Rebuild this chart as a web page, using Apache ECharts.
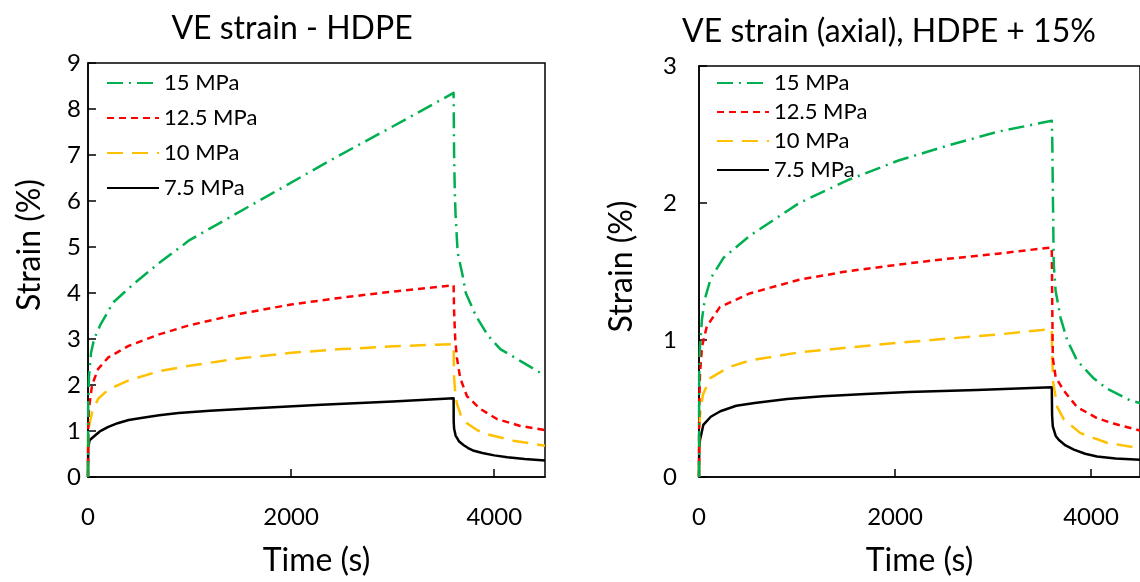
<!DOCTYPE html>
<html>
<head>
<meta charset="utf-8">
<script src="https://cdn.jsdelivr.net/npm/echarts@6/dist/echarts.min.js"></script>
<style>
  body { margin: 0; background: #fff; }
  #main { width: 1140px; height: 582px; }
</style>
</head>
<body>
<div id="main"></div>
<script>
// legend names
var loads = ['15 MPa', '12.5 MPa', '10 MPa', '7.5 MPa'];
var xTicks = [0, 2000, 4000];

// left chart: HDPE, time (s) and strain (%)
var tG1 = [0, 2, 10, 30, 60, 120, 250, 450, 700, 1000, 1400, 1800, 2400, 3000, 3600, 3605, 3612, 3620, 3640, 3690, 3720, 3820, 3940, 4060, 4260, 4450, 4500];
var sG1 = [0, 1.6, 2.2, 2.7, 3.0, 3.3, 3.8, 4.2, 4.65, 5.15, 5.65, 6.15, 6.9, 7.62, 8.35, 7.0, 6.2, 5.67, 4.88, 4.37, 4.0, 3.5, 3.07, 2.78, 2.52, 2.27, 2.22];
var tR1 = [0, 2, 10, 40, 100, 200, 400, 700, 1000, 1500, 2000, 2500, 3000, 3600, 3605, 3616, 3632, 3665, 3731, 3862, 4027, 4256, 4500];
var sR1 = [0, 1.0, 1.5, 2.0, 2.35, 2.6, 2.85, 3.1, 3.3, 3.55, 3.75, 3.9, 4.03, 4.17, 3.6, 3.0, 2.6, 2.15, 1.76, 1.48, 1.26, 1.11, 1.02];
var tY1 = [0, 2, 10, 40, 100, 200, 400, 700, 1000, 1500, 2000, 2500, 3000, 3600, 3604, 3615, 3632, 3670, 3731, 3830, 3928, 4187, 4500];
var sY1 = [0, 0.8, 1.1, 1.4, 1.7, 1.9, 2.1, 2.3, 2.42, 2.58, 2.7, 2.78, 2.84, 2.89, 2.2, 1.85, 1.6, 1.35, 1.17, 1.02, 0.93, 0.79, 0.68];
var tK1 = [0, 2, 15, 46, 116, 200, 292, 400, 539, 700, 891, 1200, 1595, 2299, 3003, 3600, 3601, 3605, 3620, 3655, 3700, 3743, 3800, 3884, 4000, 4130, 4300, 4500];
var sK1 = [0, 0.63, 0.8, 0.86, 0.99, 1.09, 1.17, 1.24, 1.29, 1.34, 1.39, 1.44, 1.49, 1.57, 1.64, 1.71, 1.2, 1.05, 0.9, 0.77, 0.69, 0.63, 0.57, 0.52, 0.47, 0.43, 0.39, 0.36];

// right chart: HDPE + 15%
var tG2 = [0, 2, 10, 30, 60, 120, 250, 516, 1023, 1529, 2035, 2542, 3048, 3600, 3605, 3612, 3620, 3639, 3690, 3757, 3858, 4027, 4162, 4398, 4500];
var sG2 = [0, 0.75, 0.95, 1.15, 1.3, 1.45, 1.6, 1.76, 2.0, 2.17, 2.31, 2.42, 2.52, 2.6, 2.45, 2.0, 1.55, 1.36, 1.16, 1.0, 0.85, 0.72, 0.645, 0.56, 0.54];
var tR2 = [0, 2, 10, 30, 80, 213, 516, 1023, 1500, 2035, 2500, 3048, 3600, 3604, 3610, 3639, 3723, 3858, 4061, 4230, 4500];
var sR2 = [0, 0.5, 0.75, 0.95, 1.1, 1.24, 1.34, 1.44, 1.5, 1.55, 1.59, 1.63, 1.676, 1.3, 0.87, 0.73, 0.63, 0.51, 0.43, 0.39, 0.34];
var tY2 = [0, 2, 10, 40, 111, 300, 516, 1023, 2035, 3048, 3600, 3604, 3612, 3656, 3723, 3892, 4162, 4500];
var sY2 = [0, 0.3, 0.45, 0.6, 0.72, 0.8, 0.85, 0.91, 0.98, 1.04, 1.08, 0.9, 0.7, 0.51, 0.42, 0.32, 0.25, 0.21];
var tK2 = [0, 2, 10, 44, 120, 218, 380, 567, 900, 1264, 1700, 2135, 2833, 3600, 3603, 3610, 3640, 3673, 3740, 3825, 3940, 4061, 4250, 4500];
var sK2 = [0, 0.2, 0.27, 0.38, 0.44, 0.48, 0.52, 0.54, 0.57, 0.59, 0.605, 0.62, 0.635, 0.655, 0.45, 0.37, 0.3, 0.27, 0.23, 0.2, 0.17, 0.15, 0.135, 0.125];

var colors = ['#00b050', '#ff0000', '#ffc000', '#000000'];
var dashes = [[16, 6, 2, 6], [7, 5], [16, 9], 'solid'];
var font = 'Lato, "Open Sans", sans-serif';

function pairs(t, s) {
    var out = [];
    for (var i = 0; i < t.length; i++) out.push([t[i], s[i]]);
    return out;
}

function line(k, idx, t, s) {
    return {
        name: loads[k],
        type: 'line',
        xAxisIndex: idx,
        yAxisIndex: idx,
        data: pairs(t, s),
        symbol: 'none',
        smooth: false,
        lineStyle: { color: colors[k], width: 2.5, type: dashes[k], join: 'round' },
        itemStyle: { color: colors[k] },
        z: 10 - k
    };
}

function xAxis(idx) {
    return {
        type: 'value', gridIndex: idx, min: 0, max: 4500, interval: 2000,
        name: 'Time (s)', nameLocation: 'middle', nameGap: 68,
        nameTextStyle: { fontFamily: font, fontSize: 32, color: '#000' },
        axisLine: { show: true, lineStyle: { color: '#000', width: 1.5 } },
        axisTick: { show: true, inside: true, length: 8, lineStyle: { color: '#000', width: 1.5 } },
        axisLabel: {
            fontFamily: font, fontSize: 24, color: '#000', margin: 28, showMaxLabel: false,
            formatter: function (v) { return xTicks.indexOf(v) >= 0 ? String(v) : ''; }
        },
        splitLine: { show: false }
    };
}

function yAxis(idx, max, margin, gap, shift) {
    return {
        type: 'value', gridIndex: idx, min: 0, max: max, interval: 1,
        name: 'Strain (%)', nameLocation: 'middle', nameGap: gap,
        nameTextStyle: { fontFamily: font, fontSize: 32, color: '#000', padding: [0, 0, 0, shift] },
        axisLine: { show: true, lineStyle: { color: '#000', width: 1.5 } },
        axisTick: { show: true, inside: true, length: 8, lineStyle: { color: '#000', width: 1.5 } },
        axisLabel: { fontFamily: font, fontSize: 24, color: '#000', margin: margin },
        splitLine: { show: false }
    };
}

function legend(left, top, gap, size) {
    return {
        left: left, top: top, orient: 'vertical', itemGap: gap,
        itemWidth: 52, itemHeight: 14,
        data: loads,
        itemStyle: { opacity: 0 },
        textStyle: { fontFamily: font, fontSize: size, color: '#000' },
        selectedMode: false
    };
}

var chart = echarts.init(document.getElementById('main'));
var option = {
    backgroundColor: '#fff',
    animation: false,
    title: [
        { text: 'VE strain - HDPE', left: 287, top: 8, textAlign: 'center',
          textStyle: { fontFamily: font, fontSize: 32, fontWeight: 'normal', color: '#000' } },
        { text: 'VE strain (axial), HDPE + 15%', left: 884, top: 11, textAlign: 'center',
          textStyle: { fontFamily: font, fontSize: 32, fontWeight: 'normal', color: '#000' } }
    ],
    grid: [
        { left: 88, top: 63, width: 457, height: 415, show: true, borderColor: '#000', borderWidth: 1.5 },
        { left: 699, top: 66, width: 444, height: 415, show: true, borderColor: '#000', borderWidth: 1.5 }
    ],
    legend: [
        legend(101, 67, 13, 22),
        legend(711, 67, 7, 22)
    ],
    xAxis: [xAxis(0), xAxis(1)],
    yAxis: [yAxis(0, 9, 7, 42, 50), yAxis(1, 3, 22, 61, 10)],
    series: [
        line(0, 0, tG1, sG1), line(1, 0, tR1, sR1), line(2, 0, tY1, sY1), line(3, 0, tK1, sK1),
        line(0, 1, tG2, sG2), line(1, 1, tR2, sR2), line(2, 1, tY2, sY2), line(3, 1, tK2, sK2)
    ]
};
chart.setOption(option);
</script>
</body>
</html>
